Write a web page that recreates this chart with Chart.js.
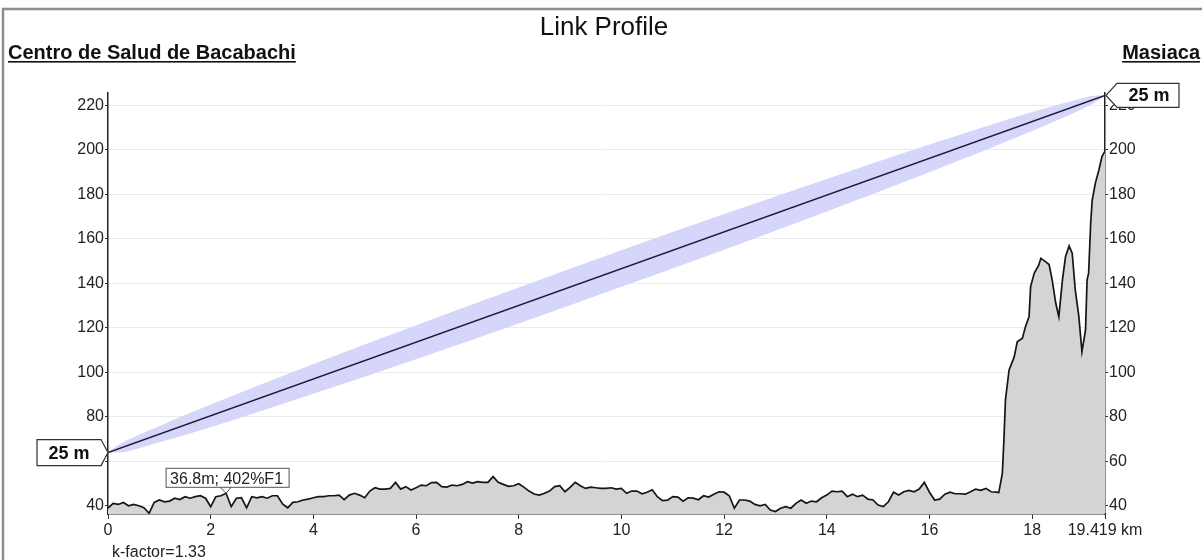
<!DOCTYPE html>
<html>
<head>
<meta charset="utf-8">
<title>Link Profile</title>
<script src="https://cdn.jsdelivr.net/npm/chart.js@4.4.0/dist/chart.umd.min.js"></script>
<style>
  html, body { margin: 0; padding: 0; background: #fff; }
  #wrap { width: 1202px; height: 560px; }
</style>
</head>
<body>
<div id="wrap"><canvas id="profile" width="1202" height="560"></canvas></div>
<script>
// Texts
const titleText = 'Link Profile'
const siteA = 'Centro de Salud de Bacabachi'
const siteB = 'Masiaca'
const antennaLabels = ['25 m', '25 m']
const kFactorText = 'k-factor=1.33'
const clearanceText = '36.8m; 402%F1'
const clearanceKm = 2.3
const clearanceM = 45.7

// Axis ticks
const xTickValues = [0, 2, 4, 6, 8, 10, 12, 14, 16, 18, 19.419]
const yTickValues = [40, 60, 80, 100, 120, 140, 160, 180, 200, 220]
const linkKm = 19.419

// Terrain profile (km, m)
const terrainKm = [
  0, 0.1, 0.2, 0.3, 0.4, 0.5, 0.6, 0.7, 0.8, 0.9,
  1, 1.1, 1.2, 1.3, 1.4, 1.5, 1.6, 1.7, 1.8, 1.9,
  2, 2.1, 2.2, 2.3, 2.4, 2.5, 2.6, 2.7, 2.8, 2.9,
  3, 3.1, 3.2, 3.3, 3.4, 3.5, 3.6, 3.7, 3.8, 3.9,
  4, 4.1, 4.2, 4.3, 4.4, 4.5, 4.6, 4.7, 4.8, 4.9,
  5, 5.1, 5.2, 5.3, 5.4, 5.5, 5.6, 5.7, 5.8, 5.9,
  6, 6.1, 6.2, 6.3, 6.4, 6.5, 6.6, 6.7, 6.8, 6.9,
  7, 7.1, 7.2, 7.3, 7.4, 7.5, 7.6, 7.7, 7.8, 7.9,
  8, 8.1, 8.2, 8.3, 8.4, 8.5, 8.6, 8.7, 8.8, 8.9,
  9, 9.1, 9.2, 9.3, 9.4, 9.5, 9.6, 9.7, 9.8, 9.9,
  10, 10.1, 10.2, 10.3, 10.4, 10.5, 10.6, 10.7, 10.8, 10.9,
  11, 11.1, 11.2, 11.3, 11.4, 11.5, 11.6, 11.7, 11.8, 11.9,
  12, 12.1, 12.2, 12.3, 12.4, 12.5, 12.6, 12.7, 12.8, 12.9,
  13, 13.1, 13.2, 13.3, 13.4, 13.5, 13.6, 13.7, 13.8, 13.9,
  14, 14.1, 14.2, 14.3, 14.4, 14.5, 14.6, 14.7, 14.8, 14.9,
  15, 15.1, 15.2, 15.3, 15.4, 15.5, 15.6, 15.7, 15.8, 15.9,
  16, 16.1, 16.2, 16.3, 16.4, 16.5, 16.6, 16.7, 16.8, 16.9,
  17, 17.1, 17.2, 17.3,
  17.35, 17.42, 17.45, 17.48, 17.55, 17.65, 17.71, 17.81, 17.87, 17.94,
  17.97, 18.04, 18.13, 18.17, 18.26, 18.33, 18.39, 18.46, 18.52, 18.59,
  18.65, 18.72, 18.78, 18.84, 18.91, 18.97, 19.04, 19.07, 19.1, 19.14,
  19.17, 19.23, 19.3, 19.36, 19.419
]
const terrainM = [
  39, 41.2, 40.7, 41.6, 40.1, 40.7, 40.1, 39.2, 36.7, 41.6,
  42.7, 41.9, 42.2, 43.5, 42.9, 44.2, 43.5, 44.2, 44.6, 43.5,
  39.7, 44.2, 44.6, 45.7, 39.7, 43.5, 43.7, 39.2, 44.2, 43.7,
  44.2, 43.5, 44.6, 44.6, 40.9, 39.2, 41.6, 41.9, 42.7, 43.1,
  43.7, 44.2, 44.2, 44.6, 44.6, 44.9, 42.9, 44.9, 45.7, 44.9,
  43.7, 46.7, 48.2, 47.6, 47.6, 47.9, 50.6, 47.6, 48.7, 47.2,
  48.2, 49.4, 49.1, 50.5, 50.6, 48.7, 48.5, 49.4, 49.1, 49.7,
  50.9, 50.3, 50.9, 50.6, 50.6, 53.2, 50.6, 49.7, 48.8, 49.1,
  50.0, 48.5, 46.7, 45.4, 44.9, 45.7, 46.7, 48.7, 49.1, 46.4,
  48.4, 50.6, 49.1, 47.9, 48.5, 48.2, 47.9, 47.9, 48.2, 47.6,
  47.9, 45.7, 46.7, 46.7, 45.5, 46.2, 47.3, 44.2, 42.4, 42.6,
  44.2, 44.0, 42.2, 43.7, 43.5, 42.8, 44.6, 44.0, 45.3, 46.4,
  46.2, 44.6, 39.0, 42.7, 42.7, 42.2, 40.7, 40.1, 40.7, 38.2,
  37.5, 39.0, 39.7, 39.0, 41.2, 42.7, 41.2, 42.2, 41.9, 43.7,
  44.9, 46.7, 46.4, 46.7, 44.2, 45.3, 44.2, 44.9, 43.1, 42.7,
  40.4, 39.7, 41.9, 46.2, 44.9, 46.4, 47.0, 46.4, 47.6, 50.6,
  46.2, 42.7, 43.1, 45.3, 46.2, 45.5, 45.5, 45.3, 46.4, 47.6,
  47.0, 47.9, 46.4, 46.2,
  46.0, 54.8, 69.7, 87.6, 101, 107, 113.8, 115.4, 120.6, 125.1,
  138.6, 144.6, 148.3, 151.3, 149.8, 148.5, 141.6, 131.1, 125.1, 141.6,
  152.0, 156.9, 153.6, 137.1, 125.1, 109.3, 119.1, 141.6, 144.6, 167.1,
  177.5, 185.0, 191.0, 197.0, 199.5
]

// Line of sight (km, m)
const losKm = [0, 19.419]
const losM = [64, 224.5]

// Fresnel zone edges (km, m)
const fresnelKm = [0, 0.2, 0.5, 1, 2, 4, 6, 8, 10, 12, 14, 16, 18, 19, 19.2, 19.419]
const fresnelTop = [64, 67.4, 70.9, 76.0, 85.6, 103.8, 121.2, 138.2, 154.9, 171.2, 187.0, 202.4, 217.1, 223.4, 224.4, 224.5]
const fresnelBottom = [64, 64.0, 65.3, 68.6, 75.4, 90.4, 106.0, 122.0, 138.5, 155.2, 172.4, 190.0, 208.5, 218.6, 221.0, 224.5]

const pts = (xs, ys) => xs.map((v, i) => ({ x: v, y: ys[i] }))
const FONT = '"Liberation Sans", Arial, sans-serif'

function underlined(ctx, text, x, y, align) {
  ctx.textAlign = align
  ctx.fillText(text, x, y)
  const w = ctx.measureText(text).width
  const x0 = align === 'right' ? x - w : x
  ctx.fillRect(x0, y + 2, w, 1.6)
}

const overlay = {
  id: 'overlay',
  afterDraw(chart) {
    const ctx = chart.ctx
    const sx = chart.scales.x, sy = chart.scales.y
    ctx.save()

    // outer frame
    ctx.strokeStyle = '#8c8c8c'
    ctx.lineWidth = 2.5
    ctx.strokeRect(3, 9, 1215, 600)

    // title and site names
    ctx.fillStyle = '#111'
    ctx.textBaseline = 'alphabetic'
    ctx.font = '26px ' + FONT
    ctx.textAlign = 'center'
    ctx.fillText(titleText, 604, 35)
    ctx.font = 'bold 20px ' + FONT
    underlined(ctx, siteA, 8, 59, 'left')
    underlined(ctx, siteB, 1200, 59, 'right')

    // k-factor
    ctx.font = '16px ' + FONT
    ctx.textAlign = 'left'
    ctx.fillStyle = '#222'
    ctx.fillText(kFactorText, 112, 557)

    // antenna height labels
    ctx.lineWidth = 1.2
    ctx.strokeStyle = '#333'
    ctx.font = 'bold 18px ' + FONT
    ctx.textAlign = 'center'
    ctx.textBaseline = 'middle'
    let tx = sx.getPixelForValue(losKm[0]), ty = sy.getPixelForValue(losM[0])
    ctx.beginPath()
    ctx.moveTo(tx - 71, ty - 13)
    ctx.lineTo(tx - 7, ty - 13)
    ctx.lineTo(tx, ty)
    ctx.lineTo(tx - 7, ty + 13)
    ctx.lineTo(tx - 71, ty + 13)
    ctx.closePath()
    ctx.fillStyle = '#fff'
    ctx.fill()
    ctx.stroke()
    ctx.fillStyle = '#111'
    ctx.fillText(antennaLabels[0], tx - 39, ty + 1)

    tx = sx.getPixelForValue(losKm[1]); ty = sy.getPixelForValue(losM[1])
    ctx.beginPath()
    ctx.moveTo(tx + 1, ty)
    ctx.lineTo(tx + 12, ty - 12)
    ctx.lineTo(tx + 74, ty - 12)
    ctx.lineTo(tx + 74, ty + 12)
    ctx.lineTo(tx + 12, ty + 12)
    ctx.closePath()
    ctx.fillStyle = '#fff'
    ctx.fill()
    ctx.stroke()
    ctx.fillStyle = '#111'
    ctx.fillText(antennaLabels[1], tx + 44, ty + 1)

    // worst clearance callout
    tx = sx.getPixelForValue(clearanceKm); ty = sy.getPixelForValue(clearanceM)
    const bx = tx - 60, by = ty - 25, bw = 123, bh = 19
    ctx.fillStyle = '#fff'
    ctx.fillRect(bx, by, bw, bh)
    ctx.strokeStyle = '#555'
    ctx.lineWidth = 1
    ctx.strokeRect(bx, by, bw, bh)
    ctx.beginPath()
    ctx.moveTo(tx - 6, by + bh)
    ctx.lineTo(tx, ty)
    ctx.lineTo(tx + 5, by + bh)
    ctx.stroke()
    ctx.fillStyle = '#222'
    ctx.font = '16px ' + FONT
    ctx.textAlign = 'left'
    ctx.textBaseline = 'alphabetic'
    ctx.fillText(clearanceText, bx + 4, by + bh - 3)

    ctx.restore()
  }
}

const yAxisCommon = {
  type: 'linear',
  min: 36.4,
  max: 225.6,
  afterBuildTicks: s => { s.ticks = yTickValues.map(v => ({ value: v })) },
  ticks: { color: '#222', font: { family: FONT, size: 16 }, padding: 1 },
  border: { display: true, color: '#222', width: 1.5 }
}

new Chart(document.getElementById('profile'), {
  type: 'line',
  data: {
    datasets: [
      {
        label: 'LOS',
        data: pts(losKm, losM),
        borderColor: '#1c1c38',
        borderWidth: 1.5,
        pointRadius: 0,
        fill: false,
        order: 0
      },
      {
        label: 'Terrain',
        data: pts(terrainKm, terrainM),
        borderColor: '#151515',
        borderWidth: 1.7,
        backgroundColor: '#d4d4d4',
        pointRadius: 0,
        tension: 0,
        fill: 'start',
        order: 1
      },
      {
        label: 'Fresnel top',
        data: pts(fresnelKm, fresnelTop),
        borderWidth: 0,
        borderColor: 'rgba(0,0,0,0)',
        backgroundColor: '#d6d6fa',
        pointRadius: 0,
        cubicInterpolationMode: 'monotone',
        fill: '+1',
        order: 2
      },
      {
        label: 'Fresnel bottom',
        data: pts(fresnelKm, fresnelBottom),
        borderWidth: 0,
        borderColor: 'rgba(0,0,0,0)',
        pointRadius: 0,
        cubicInterpolationMode: 'monotone',
        fill: false,
        order: 3
      }
    ]
  },
  options: {
    responsive: false,
    animation: false,
    layout: { padding: { top: 93, left: 0, right: 0, bottom: 0 } },
    plugins: {
      legend: { display: false },
      tooltip: { enabled: false },
      title: { display: false }
    },
    scales: {
      x: {
        type: 'linear',
        min: 0,
        max: linkKm,
        afterBuildTicks: s => { s.ticks = xTickValues.map(v => ({ value: v })) },
        afterFit: s => { s.height = 46 },
        ticks: {
          color: '#222',
          font: { family: FONT, size: 16 },
          padding: 2,
          autoSkip: false,
          maxRotation: 0,
          callback: v => (v === linkKm ? v + ' km' : v)
        },
        grid: { drawOnChartArea: false, tickLength: 5, tickColor: '#333' },
        border: { display: true, color: '#222', width: 1.5 }
      },
      y: {
        ...yAxisCommon,
        position: 'left',
        afterFit: s => { s.width = 108 },
        grid: { color: '#ebebeb', lineWidth: 1, tickLength: 3, tickColor: '#333' }
      },
      y2: {
        ...yAxisCommon,
        position: 'right',
        afterFit: s => { s.width = 97 },
        grid: { drawOnChartArea: false, tickLength: 3, tickColor: '#333' }
      }
    }
  },
  plugins: [overlay]
})
</script>
</body>
</html>
